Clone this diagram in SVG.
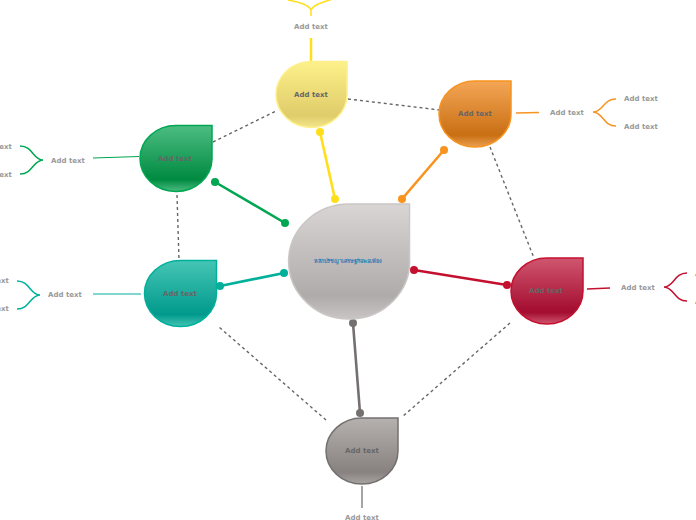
<svg xmlns="http://www.w3.org/2000/svg" width="696" height="520" viewBox="0 0 696 520">
<style>
text{font-family:"DejaVu Sans","Noto Sans",sans-serif;font-weight:700;text-anchor:middle}
.n{font-size:7px;fill:#666}
.l{font-size:7px;fill:#999}
.d{fill:none;stroke:#666;stroke-width:1.4;stroke-dasharray:3 3}
</style>
<defs>
<linearGradient id="gc" x1="0" y1="0" x2="0" y2="1"><stop offset="0" stop-color="#d9d5d5"/><stop offset=".8" stop-color="#b0abab"/><stop offset="1" stop-color="#c9c5c5"/></linearGradient>
<linearGradient id="gy" x1="0" y1="0" x2="0" y2="1"><stop offset="0" stop-color="#fdf08a"/><stop offset=".82" stop-color="#dfcc6a"/><stop offset="1" stop-color="#f3e68a"/></linearGradient>
<linearGradient id="go" x1="0" y1="0" x2="0" y2="1"><stop offset="0" stop-color="#f4a655"/><stop offset=".82" stop-color="#c96f14"/><stop offset="1" stop-color="#eaa050"/></linearGradient>
<linearGradient id="gg" x1="0" y1="0" x2="0" y2="1"><stop offset="0" stop-color="#4cbd82"/><stop offset=".82" stop-color="#008a40"/><stop offset="1" stop-color="#4cbd82"/></linearGradient>
<linearGradient id="gt" x1="0" y1="0" x2="0" y2="1"><stop offset="0" stop-color="#45c5b5"/><stop offset=".82" stop-color="#009a8c"/><stop offset="1" stop-color="#45c5b5"/></linearGradient>
<linearGradient id="gr" x1="0" y1="0" x2="0" y2="1"><stop offset="0" stop-color="#d0566f"/><stop offset=".82" stop-color="#a30c2e"/><stop offset="1" stop-color="#d0566f"/></linearGradient>
<linearGradient id="ga" x1="0" y1="0" x2="0" y2="1"><stop offset="0" stop-color="#b5b1af"/><stop offset=".82" stop-color="#878280"/><stop offset="1" stop-color="#a8a4a2"/></linearGradient>
</defs>
<g id="connectors">
<g class="d">
<path d="M213 142L276 111"/><path d="M348 99L440 110"/><path d="M490 147L534 258"/><path d="M510 323L402 417"/><path d="M326 420L219 327"/><path d="M177 195L179 260"/>
</g>
<g stroke-width="2.6" fill="none">
<path d="M320 132L335 199" stroke="#ffdf1a"/><path d="M402 199L444 150" stroke="#f7931e"/><path d="M414 270L507 285" stroke="#c4102f"/><path d="M353 323L360 413" stroke="#757070"/><path d="M284 273L220 286" stroke="#00b09b"/><path d="M285 223L215 182" stroke="#00a651"/>
</g>
<circle cx="320" cy="132" r="4" fill="#ffdf1a"/><circle cx="335" cy="199" r="4" fill="#ffdf1a"/>
<circle cx="402" cy="199" r="4" fill="#f7931e"/><circle cx="444" cy="150" r="4" fill="#f7931e"/>
<circle cx="414" cy="270" r="4" fill="#c4102f"/><circle cx="507" cy="285" r="4" fill="#c4102f"/>
<circle cx="353" cy="323" r="4" fill="#757070"/><circle cx="360" cy="413" r="4" fill="#757070"/>
<circle cx="284" cy="273" r="4" fill="#00b09b"/><circle cx="220" cy="286" r="4" fill="#00b09b"/>
<circle cx="285" cy="223" r="4" fill="#00a651"/><circle cx="215" cy="182" r="4" fill="#00a651"/>
<path d="M311 38V61" stroke="#ffdf1a" stroke-width="2.500" fill="none"/>
<path d="M288 0C298 2 308 4 311 10C314 4 324 2 336 -2M311 10V16" stroke="#ffdf1a" stroke-width="1.500" fill="none"/>
<path d="M516 113L539 112.500" stroke="#f7931e" stroke-width="1.500" fill="none"/>
<path d="M593 112C603 112 603 99 616 99M593 112C603 112 603 126 616 126" stroke="#f7931e" stroke-width="1.500" fill="none"/>
<path d="M587 289L610 288" stroke="#c4102f" stroke-width="1.500" fill="none"/>
<path d="M664 287C674 287 674 273 687 273M664 287C674 287 674 301 687 301" stroke="#c4102f" stroke-width="1.500" fill="none"/>
<path d="M362 486V508" stroke="#a8a4a2" stroke-width="2" fill="none"/>
<path d="M93 158L139 156.500" stroke="#00a651" stroke-width="1.200" fill="none"/>
<path d="M43 160C33 160 33 146 20 146M43 160C33 160 33 174 20 174" stroke="#00a651" stroke-width="1.500" fill="none"/>
<path d="M93 294L141 294" stroke="#00b09b" stroke-width="1.200" fill="none"/>
<path d="M40 295C30 295 30 281 17 281M40 295C30 295 30 309 17 309" stroke="#00b09b" stroke-width="1.500" fill="none"/>
</g>
<g id="center"><path d="M350 204H409.500V258A60.500 57.500 0 1 1 350 204Z" fill="url(#gc)" stroke="#cbc6c6" stroke-width="1.500"/><text x="348" y="263" font-size="5.400" fill="#1f7fb5" style="font-family:'Noto Sans','DejaVu Sans',sans-serif">หลักปรัชญาเศรษฐกิจพอเพียง</text></g>
<g id="node-yellow"><path d="M311 61.500H347V94.500A35.500 33 0 1 1 311 61.500Z" fill="url(#gy)" stroke="#fdf08a" stroke-width="1.500"/><text class="n" x="311" y="97">Add text</text></g>
<g id="node-orange"><path d="M475 81H511V114A36 33 0 1 1 475 81Z" fill="url(#go)" stroke="#f7931e" stroke-width="1.500"/><text class="n" x="475" y="116">Add text</text></g>
<g id="node-red"><path d="M547 258H583V291A36 33 0 1 1 547 258Z" fill="url(#gr)" stroke="#c4102f" stroke-width="1.500"/><text class="n" x="546" y="293">Add text</text></g>
<g id="node-gray"><path d="M362 418H398V451A36 33 0 1 1 362 418Z" fill="url(#ga)" stroke="#757070" stroke-width="1.500"/><text class="n" x="362" y="453">Add text</text></g>
<g id="node-teal"><path d="M180.500 260.500H216.500V293.500A36 33 0 1 1 180.500 260.500Z" fill="url(#gt)" stroke="#00b09b" stroke-width="1.500"/><text class="n" x="180" y="296">Add text</text></g>
<g id="node-green"><path d="M176 125.500H212V159A36 33 0 1 1 176 125.500Z" fill="url(#gg)" stroke="#00a651" stroke-width="1.500"/><text class="n" x="175" y="161">Add text</text></g>
<g id="labels">
<text class="l" x="311" y="29">Add text</text>
<text class="l" x="567" y="115">Add text</text>
<text class="l" x="641" y="101">Add text</text>
<text class="l" x="641" y="129">Add text</text>
<text class="l" x="638" y="290">Add text</text>
<text class="l" x="712" y="276">Add text</text>
<text class="l" x="712" y="304">Add text</text>
<text class="l" x="362" y="520">Add text</text>
<text class="l" x="68" y="163">Add text</text>
<text class="l" x="-5" y="149">Add text</text>
<text class="l" x="-5" y="177">Add text</text>
<text class="l" x="65" y="297">Add text</text>
<text class="l" x="-8" y="283">Add text</text>
<text class="l" x="-8" y="311">Add text</text>
</g>
</svg>
